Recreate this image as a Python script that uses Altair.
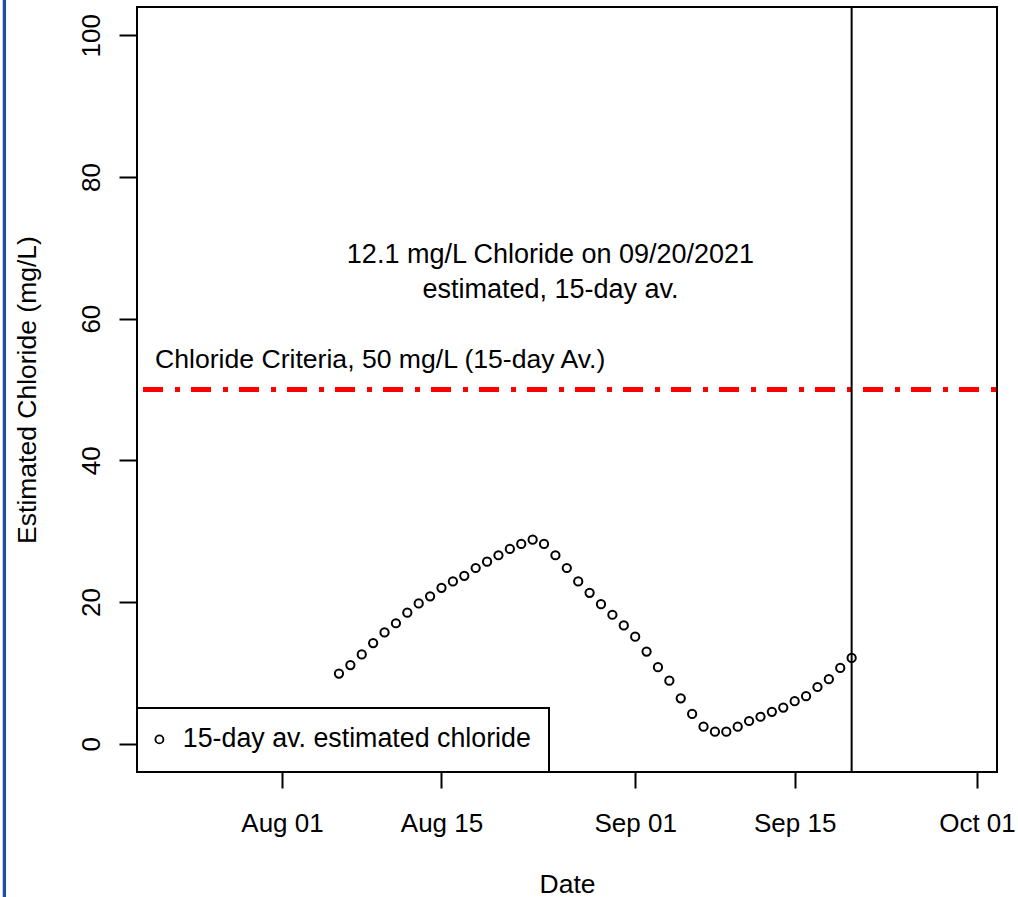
import altair as alt
import pandas as pd

# Daily 15-day average estimated chloride (mg/L)
dates = pd.date_range("2021-08-06", "2021-09-20", freq="D").strftime("%Y-%m-%d").tolist()
chloride = [
    9.9, 11.1, 12.6, 14.2, 15.7, 17.0, 18.5, 19.8, 20.8, 22.0,
    22.9, 23.7, 24.8, 25.7, 26.6, 27.5, 28.2, 28.8, 28.2, 26.6,
    24.8, 22.9, 21.3, 19.7, 18.2, 16.7, 15.1, 13.0, 10.8, 8.9,
    6.4, 4.2, 2.4, 1.7, 1.7, 2.4, 3.2, 3.8, 4.5, 5.1,
    6.0, 6.7, 8.0, 9.1, 10.7, 12.1,
]
series_label = "15-day av. estimated chloride"
criteria_value = 50
criteria_label = "Chloride Criteria, 50 mg/L (15-day Av.)"
y_ticks = [0, 20, 40, 60, 80, 100]

FONT = "Liberation Sans"

df = pd.DataFrame({"date": dates, "chloride": chloride, "series": series_label})
last = pd.DataFrame({"date": [dates[-1]]})
note = pd.DataFrame({
    "label": [f"{chloride[-1]} mg/L Chloride on "
              + pd.Timestamp(dates[-1]).strftime("%m/%d/%Y")
              + "\nestimated, 15-day av."]
})
crit = pd.DataFrame({"label": [criteria_label]})

def utc(y, m, d, h=0, mi=0):
    return alt.DateTime(year=y, month=m, date=d, hours=h, minutes=mi, utc=True)

x_scale = alt.Scale(type="utc", domain=[utc(2021, 7, 19, 6, 33), utc(2021, 10, 2, 18, 14)], nice=False)
y_scale = alt.Scale(domain=[-4, 104], nice=False, zero=False)

x_axis = alt.Axis(
    values=[utc(2021, 8, 1), utc(2021, 8, 15), utc(2021, 9, 1), utc(2021, 9, 15), utc(2021, 10, 1)],
    format="%b %d", grid=False, domain=False, tickSize=16, tickWidth=2, tickColor="black",
    labelFont=FONT, labelFontSize=26, labelColor="black", labelBaseline="alphabetic",
    labelPadding=43, labelOverlap=False, labelFlush=False,
    titleFont=FONT, titleFontSize=26.5, titleFontWeight="normal", titleColor="black",
    titleBaseline="alphabetic", titleY=120,
)
y_axis = alt.Axis(
    values=y_ticks, grid=False, domain=False, tickSize=18, tickWidth=2, tickColor="black",
    labelFont=FONT, labelFontSize=26, labelColor="black", labelAngle=270,
    labelAlign="center", labelBaseline="alphabetic", labelPadding=20, labelOverlap=False,
    titleFont=FONT, titleFontSize=26.5, titleFontWeight="normal", titleColor="black",
    titleBaseline="alphabetic", titleX=-102,
)

points = alt.Chart(df).mark_point(
    filled=False, color="black", size=68, strokeWidth=2, opacity=1
).encode(
    x=alt.X("date:T", scale=x_scale, axis=x_axis, title="Date"),
    y=alt.Y("chloride:Q", scale=y_scale, axis=y_axis, title="Estimated Chloride (mg/L)"),
    shape=alt.Shape(
        "series:N",
        scale=alt.Scale(domain=[series_label], range=["circle"]),
        legend=alt.Legend(
            title=None, orient="bottom-left", offset=0, padding=18,
            fillColor="white", strokeColor="black",
            symbolType="circle", symbolSize=64, symbolStrokeWidth=1.8,
            symbolStrokeColor="black", symbolFillColor="transparent",
            symbolOffset=-9,
            labelFont=FONT, labelFontSize=26.8, labelColor="black", labelOffset=10,
            labelLimit=0,
        ),
    ),
)

criteria_line = alt.Chart(df).mark_rule(
    color="#ff0000", strokeWidth=4, strokeDash=[20, 11, 5, 12], strokeDashOffset=30
).encode(y=alt.datum(criteria_value))

date_line = alt.Chart(last).mark_rule(color="black", strokeWidth=2).encode(x="date:T")

note_text = alt.Chart(note).mark_text(
    font=FONT, fontSize=27, color="black", align="center", baseline="alphabetic",
    lineBreak="\n", lineHeight=35,
).encode(x=alt.datum(utc(2021, 8, 24, 13, 36)), y=alt.datum(67.9), text="label:N")

crit_text = alt.Chart(crit).mark_text(
    font=FONT, fontSize=26.6, color="black", align="left", baseline="alphabetic",
).encode(x=alt.datum(utc(2021, 7, 20, 20, 28)), y=alt.datum(53.0), text="label:N")

# Blue frame edge along the left side of the figure
frame_edge = alt.Chart(last).mark_rule(color="#1f4e9b", strokeWidth=3.3).encode(
    x=alt.value(-132.6), y=alt.value(-7), y2=alt.value(890)
)

chart = alt.layer(
    criteria_line, date_line, points, note_text, crit_text, frame_edge
).properties(
    width=860, height=765,
    autosize=alt.AutoSizeParams(type="none"),
    padding={"left": 137, "top": 7, "right": 21, "bottom": 125},
    background="white",
).configure_view(
    stroke="black", strokeWidth=2
).configure_legend(
    strokeWidth=2
)

chart.save("out.html", embed_options={"renderer": "svg", "actions": False})
